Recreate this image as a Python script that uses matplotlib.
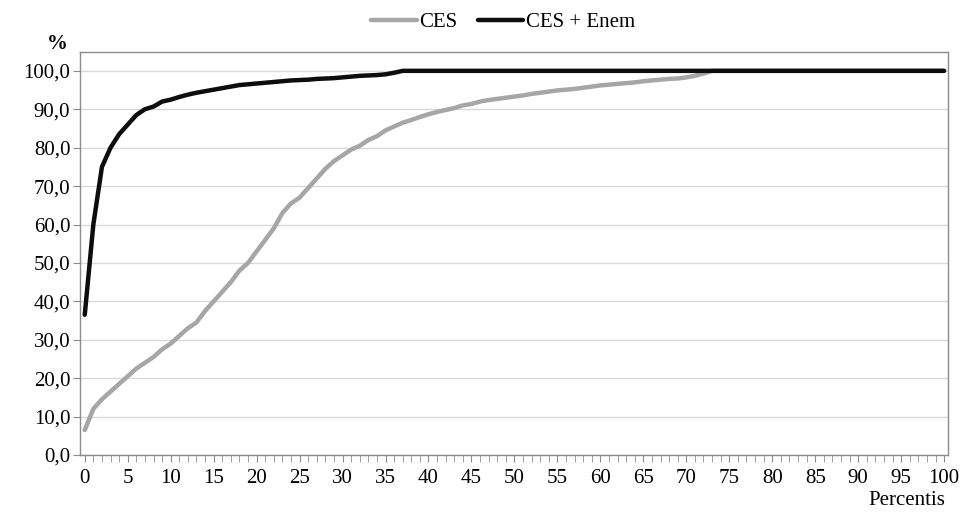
import matplotlib
matplotlib.use("Agg")
import matplotlib.pyplot as plt
from matplotlib.ticker import MultipleLocator, FuncFormatter
import numpy as np

plt.rcParams['font.family'] = ['Liberation Serif', 'DejaVu Serif']

percentis = list(range(0, 101))

ces = [6.5, 12.0, 14.5, 16.5, 18.5, 20.5, 22.5, 24.0, 25.5, 27.5,
       29.0, 31.0, 33.0, 34.5, 37.5, 40.0, 42.5, 45.0, 48.0, 50.0,
       53.0, 56.0, 59.0, 63.0, 65.5, 67.0, 69.5, 72.0, 74.5, 76.5,
       78.0, 79.5, 80.5, 82.0, 83.0, 84.5, 85.5, 86.5, 87.2, 88.0,
       88.7, 89.3, 89.8, 90.3, 91.0, 91.4, 92.0, 92.4, 92.7, 93.0,
       93.3, 93.6, 94.0, 94.3, 94.6, 94.9, 95.1, 95.3, 95.6, 95.9,
       96.2, 96.4, 96.6, 96.8, 97.0, 97.3, 97.5, 97.7, 97.9, 98.0,
       98.3, 98.7, 99.3] + [100.0] * 28

ces_enem = [36.5, 60.0, 75.0, 80.0, 83.5, 86.0, 88.5, 90.0, 90.7, 92.0,
            92.5, 93.2, 93.8, 94.3, 94.7, 95.1, 95.5, 95.9, 96.3, 96.5,
            96.7, 96.9, 97.1, 97.3, 97.5, 97.6, 97.7, 97.9, 98.0, 98.1,
            98.3, 98.5, 98.7, 98.8, 98.9, 99.1, 99.5] + [100.0] * 64

fig = plt.figure(figsize=(9.63, 5.14), dpi=100)
ax = fig.add_axes([0.0831, 0.1148, 0.9013, 0.784])

ax.plot(percentis, ces, color='#a6a6a6', lw=3.2, label='CES', solid_capstyle='round', zorder=3)
ax.plot(percentis, ces_enem, color='#0d0d0d', lw=3.2, label='CES + Enem', solid_capstyle='round', zorder=4)

ax.set_xlim(-0.55, 100.45)
ax.set_ylim(0, 104.9)

ax.yaxis.set_major_locator(MultipleLocator(10))
ax.yaxis.set_major_formatter(FuncFormatter(lambda v, p: f"{v:.1f}".replace('.', ',')))
ax.xaxis.set_major_locator(MultipleLocator(5))
ax.xaxis.set_minor_locator(MultipleLocator(1))

ax.grid(axis='y', color='#d9d9d9', lw=1.0, zorder=0)
for s in ax.spines.values():
    s.set_color('#8c8c8c')
    s.set_linewidth(1.0)

ax.tick_params(axis='y', which='major', direction='out', length=5, color='#8c8c8c', labelsize=15, pad=2)
ax.tick_params(axis='x', which='both', direction='out', length=5, color='#8c8c8c', labelsize=15, pad=5)

fig.text(0.049, 0.905, '%', fontsize=15, fontweight='bold', ha='left', va='baseline')
fig.text(0.982, 0.008, 'Percentis', fontsize=15, ha='right', va='bottom')

leg = fig.legend(loc='center', bbox_to_anchor=(0.522, 0.956), ncol=2, frameon=False,
                 fontsize=15, handlelength=2.2, handletextpad=0.1, columnspacing=1.0)

fig.savefig('out.png', dpi=100)
